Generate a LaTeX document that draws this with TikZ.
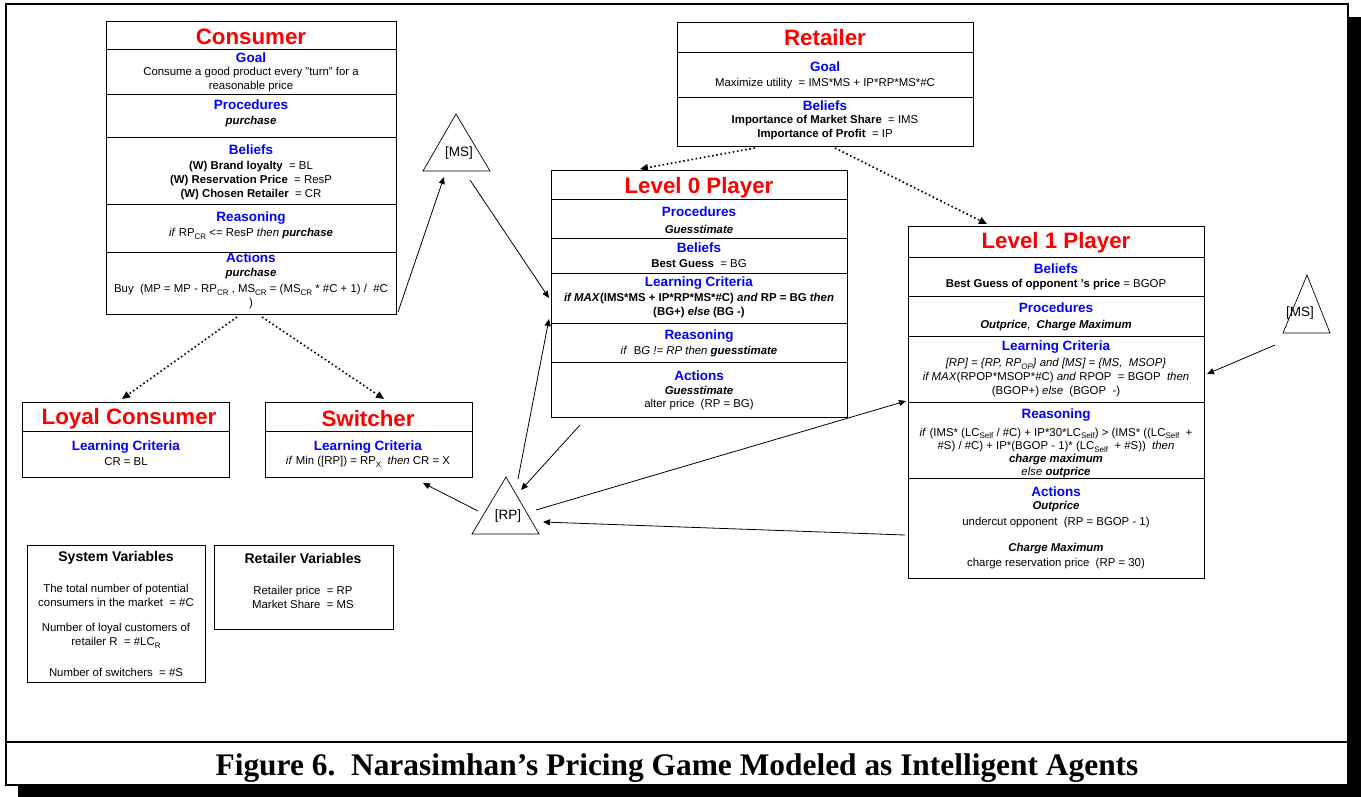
\documentclass[tikz,border=0pt]{standalone}
\usepackage{fontspec}
\setmainfont{Liberation Sans}
\newfontfamily\capfont{Liberation Serif}
\usetikzlibrary{arrows.meta,fit}
\definecolor{hblue}{RGB}{0,0,255}
\definecolor{tred}{RGB}{255,0,0}
\newcommand\sbx[1]{\raisebox{-0.45ex}{\fontsize{8}{8}\selectfont #1}}
\newcommand\bi[1]{\textbf{\textit{#1}}}
\newcommand\secbox[5]{\path (#2,#3) coordinate (#1-nw) (#4,#5) coordinate (#1-se);
  \node[sec, fit=(#1-nw)(#1-se)] (#1) {};}
\begin{document}
\begin{tikzpicture}[x=1pt,y=-1pt,
  sec/.style={draw, line width=0.8pt, inner sep=0pt, outer sep=0pt},
  ttl/.style={font=\fontsize{22.3}{24}\selectfont\bfseries, text=tred, inner sep=0pt},
  hdr/.style={font=\fontsize{13.5}{15}\selectfont\bfseries, text=hblue, inner sep=0pt},
  bod/.style={font=\fontsize{11.4}{14}\selectfont, align=center, inner sep=0pt},
  vhd/.style={font=\fontsize{14}{15}\selectfont\bfseries, inner sep=0pt},
  tri/.style={draw, line width=0.7pt},
  arr/.style={line width=0.8pt, -{Triangle[length=7pt,width=6pt]}},
  dot/.style={line width=1.6pt, dash pattern=on 1.6pt off 2.6pt, -{Triangle[length=8pt,width=7pt]}}
]
\useasboundingbox (0,0) rectangle (1361,797);
% frame
\fill (1348,17) rectangle (1361,797);
\fill (18,785) rectangle (1361,797);
\draw[line width=2pt] (6,4) rectangle (1348,785);
\draw[line width=2pt] (6,742) -- (1348,742);
\node[font=\capfont\fontsize{31.4}{33}\selectfont\bfseries, inner sep=0pt] (cap) at (677,768) {Figure 6.\ \ Narasimhan’s Pricing Game Modeled as Intelligent Agents};

% Consumer
\secbox{conT}{106}{21}{396}{49}
\secbox{conG}{106}{49}{396}{94}
\secbox{conP}{106}{94}{396}{137}
\secbox{conB}{106}{137}{396}{204}
\secbox{conR}{106}{204}{396}{252}
\secbox{conA}{106}{252}{396}{314}
\node[ttl] (conTt) at (251,37) {Consumer};
\node[hdr] (conGh) at (251,58) {Goal};
\node[bod] (conGt) at (251,80) {Consume a good product every "turn" for a\\reasonable price};
\node[hdr] (conPh) at (251,105) {Procedures};
\node[bod] (conPt) at (251,122) {\bi{purchase}};
\node[hdr] (conBh) at (251,150) {Beliefs};
\node[bod] (conBt) at (251,181) {\textbf{(W) Brand loyalty} \ = BL\\\textbf{(W) Reservation Price} \ = ResP\\\textbf{(W) Chosen Retailer} \ = CR};
\node[hdr] (conRh) at (251,218) {Reasoning};
\node[bod] (conRt) at (251,234) {\textit{if} RP\sbx{CR} <= ResP \textit{then} \bi{purchase}};
\node[hdr] (conAh) at (251,258) {Actions};
\node[bod] (conAt) at (251,274) {\bi{purchase}};
\node[bod] (conAb) at (251,297) {Buy\ \ (MP = MP - RP\sbx{CR} , MS\sbx{CR} = (MS\sbx{CR} * \#C + 1) /\ \ \#C\\)};

% Retailer
\secbox{retT}{677}{22}{973}{52}
\secbox{retG}{677}{52}{973}{97}
\secbox{retB}{677}{97}{973}{146}
\node[ttl] (retTt) at (825,38) {Retailer};
\node[hdr] (retGh) at (825,67) {Goal};
\node[bod] (retGt) at (825,84) {Maximize utility \ = IMS*MS + IP*RP*MS*\#C};
\node[hdr] (retBh) at (825,106) {Beliefs};
\node[bod] (retBt) at (825,128) {\textbf{Importance of Market Share} \ = IMS\\\textbf{Importance of Profit} \ = IP};

% Level 0
\secbox{l0T}{551}{170}{847}{199}
\secbox{l0P}{551}{199}{847}{238}
\secbox{l0B}{551}{238}{847}{273}
\secbox{l0L}{551}{273}{847}{323}
\secbox{l0R}{551}{323}{847}{362}
\secbox{l0A}{551}{362}{847}{417}
\node[ttl] (l0Tt) at (699,188) {Level 0 Player};
\node[hdr] (l0Ph) at (699,212) {Procedures};
\node[bod] (l0Pt) at (699,229) {\bi{Guesstimate}};
\node[hdr] (l0Bh) at (699,248) {Beliefs};
\node[bod] (l0Bt) at (699,264) {\textbf{Best Guess} \ = BG};
\node[hdr] (l0Lh) at (699,283) {Learning Criteria};
\node[bod,font=\fontsize{11.4}{14}\selectfont\bfseries] (l0Lt) at (699,306) {\textit{if MAX}(IMS*MS + IP*RP*MS*\#C) \textit{and} RP = BG \textit{then}\\(BG+) \textit{else} (BG -)};
\node[hdr] (l0Rh) at (699,336) {Reasoning};
\node[bod] (l0Rt) at (699,352) {\textit{if} \ B\textit{G != RP then} \bi{guesstimate}};
\node[hdr] (l0Ah) at (699,376) {Actions};
\node[bod] (l0At) at (699,390) {\bi{Guesstimate}};
\node[bod] (l0Ab) at (699,405) {alter price \ (RP = BG)};

% Level 1
\secbox{l1T}{908}{226}{1204}{257}
\secbox{l1B}{908}{257}{1204}{296}
\secbox{l1P}{908}{296}{1204}{336}
\secbox{l1L}{908}{336}{1204}{402}
\secbox{l1R}{908}{402}{1204}{478}
\secbox{l1A}{908}{478}{1204}{578}
\node[ttl] (l1Tt) at (1056,243) {Level 1 Player};
\node[hdr] (l1Bh) at (1056,269) {Beliefs};
\node[bod] (l1Bt) at (1056,285) {\textbf{Best Guess of opponent 's price} = BGOP};
\node[hdr] (l1Ph) at (1056,308) {Procedures};
\node[bod] (l1Pt) at (1056,326) {\bi{Outprice}, \ \bi{Charge Maximum}};
\node[hdr] (l1Lh) at (1056,347) {Learning Criteria};
\node[bod] (l1Lt) at (1056,378) {\textit{[RP] = \{RP, RP\sbx{OP}\} and [MS] = \{MS, \ MSOP\}}\\\textit{if MAX}(RPOP*MSOP*\#C) \textit{and} RPOP \ = BGOP \ \textit{then}\\(BGOP+) \textit{else} \ (BGOP \ -)};
\node[hdr] (l1Rh) at (1056,415) {Reasoning};
\node[bod,font=\fontsize{11.4}{13.3}\selectfont] (l1Rt) at (1056,453) {\textit{if} (IMS* (LC\sbx{Self} / \#C) + IP*30*LC\sbx{Self}) > (IMS* ((LC\sbx{Self} \ +\\\#S) / \#C) + IP*(BGOP - 1)* (LC\sbx{Self} \ + \#S)) \ \textit{then}\\\bi{charge maximum}\\\textit{else} \bi{outprice}};
\node[hdr] (l1Ah) at (1056,492) {Actions};
\node[bod] (l1At) at (1056,507) {\bi{Outprice}};
\node[bod] (l1Au) at (1056,523) {undercut opponent \ (RP = BGOP - 1)};
\node[bod] (l1Ac) at (1056,549) {\bi{Charge Maximum}};
\node[bod] (l1Ar) at (1056,564) {charge reservation price \ (RP = 30)};

% Loyal consumer
\secbox{loyT}{22}{402}{229}{431}
\secbox{loyL}{22}{431}{229}{477}
\node[ttl] (loyTt) at (129,419) {Loyal Consumer};
\node[hdr] (loyLh) at (126,447) {Learning Criteria};
\node[bod] (loyLt) at (126,462) {CR = BL};

% Switcher
\secbox{swT}{265}{402}{472}{431}
\secbox{swL}{265}{431}{472}{477}
\node[ttl] (swTt) at (368,419) {Switcher};
\node[hdr] (swLh) at (368,447) {Learning Criteria};
\node[bod] (swLt) at (368,462) {\textit{if} Min ([RP]) = RP\sbx{X} \ \textit{then} CR = X};

% System variables
\secbox{sysV}{27}{545}{205}{682}
\node[vhd] (sysVh) at (116,558) {System Variables};
\node[bod] (sysV1) at (116,595) {The total number of potential\\consumers in the market \ = \#C};
\node[bod] (sysV2) at (116,636) {Number of loyal customers of\\retailer R \ = \#LC\sbx{R}};
\node[bod] (sysV3) at (116,672) {Number of switchers \ = \#S};

% Retailer variables
\secbox{retV}{214}{545}{393}{629}
\node[vhd] (retVh) at (303,558) {Retailer Variables};
\node[bod] (retV1) at (303,597) {Retailer price \ = RP\\Market Share \ = MS};

% triangles
\draw[tri] (456,114) -- (423,171) -- (490,171) -- cycle;
\node[bod,font=\fontsize{13.5}{15}\selectfont] (msA) at (459,153) {[MS]};
\draw[tri] (1307,275) -- (1283,333) -- (1330,333) -- cycle;
\node[bod,font=\fontsize{13.5}{15}\selectfont] (msB) at (1300,313) {[MS]};
\draw[tri] (506,477) -- (472,534) -- (539,534) -- cycle;
\node[bod,font=\fontsize{13.5}{15}\selectfont] (rp) at (508,516) {[RP]};

% connector end points
\coordinate (c1s) at (398,312); \coordinate (c1e) at (444,177);
\coordinate (c2s) at (470,180); \coordinate (c2e) at (549,298);
\coordinate (c3s) at (518,479); \coordinate (c3e) at (549,319);
\coordinate (c4s) at (580,425); \coordinate (c4e) at (521,490);
\coordinate (c5s) at (478,511); \coordinate (c5e) at (423,483);
\coordinate (c6s) at (536,510); \coordinate (c6e) at (906,401);
\coordinate (c7s) at (905,535); \coordinate (c7e) at (543,522);
\coordinate (c8s) at (1275,345); \coordinate (c8e) at (1207,374);
\coordinate (d1s) at (755,148); \coordinate (d1e) at (640,169);
\coordinate (d2s) at (835,148); \coordinate (d2e) at (987,224);
\coordinate (d3s) at (237,317); \coordinate (d3e) at (122,399);
\coordinate (d4s) at (262,317); \coordinate (d4e) at (384,399);

\draw[arr] (c1s) -- (c1e);
\draw[arr] (c2s) -- (c2e);
\draw[arr] (c3s) -- (c3e);
\draw[arr] (c4s) -- (c4e);
\draw[arr] (c5s) -- (c5e);
\draw[arr] (c6s) -- (c6e);
\draw[arr] (c7s) -- (c7e);
\draw[arr] (c8s) -- (c8e);
\draw[dot] (d1s) -- (d1e);
\draw[dot] (d2s) -- (d2e);
\draw[dot] (d3s) -- (d3e);
\draw[dot] (d4s) -- (d4e);
\end{tikzpicture}
\end{document}
